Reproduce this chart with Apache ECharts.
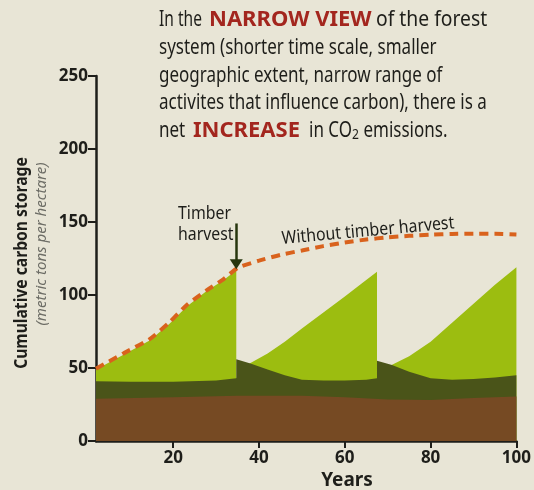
<!DOCTYPE html>
<html>
<head>
<meta charset="utf-8">
<script src="https://cdn.jsdelivr.net/npm/echarts@6/dist/echarts.min.js"></script>
<style>
  html, body { margin: 0; background: #e8e5d6; }
  #chart { width: 534px; height: 490px; }
</style>
</head>
<body>
<div id="chart"></div>
<script>
// years / carbon (metric tons per hectare)
var liveTrees = [
  [2, 49], [8.4, 59], [14.6, 69], [19.2, 80.5], [23.1, 92], [27.7, 102.5], [31.6, 110], [34.7, 117],
  [34.7, 43], [37.8, 53], [42, 60], [46, 68], [50, 77], [55, 88], [60, 99], [64, 108], [67.5, 116],
  [67.5, 43], [70.9, 52], [75, 58], [80, 68], [85, 81], [90, 94], [95, 107], [100, 119]
];
var deadWood = [
  [2, 41], [10, 40.5], [20, 40.5], [30, 41.5], [34.7, 43], [34.7, 56], [38, 53], [42, 49], [46, 45],
  [50, 42], [55, 41.5], [60, 41.5], [65, 42], [67.5, 43], [67.5, 55], [71, 52], [75, 47.5], [80, 43],
  [85, 42], [90, 42.5], [95, 43.5], [100, 45]
];
var soil = [
  [2, 29], [20, 30], [35, 31], [50, 31], [60, 30], [70, 28.5], [80, 28], [90, 29.5], [100, 30.5]
];
var noHarvest = [
  [2, 49.5], [8.4, 60], [14.6, 70], [19.2, 81.5], [23.1, 93], [27.7, 103], [31.6, 110.5], [35, 118.5],
  [40, 123.5], [45, 127.5], [50, 130.5], [55, 133.5], [60, 136], [65, 138], [70, 139.5],
  [75, 140.5], [80, 141.3], [85, 141.8], [90, 142], [95, 142], [100, 141.5]
];
var harvestArrow = [[34.7, 149], [34.7, 121]];
var xTicks = [20, 40, 60, 80, 100];

var font = "'Noto Sans', sans-serif";
var ink = '#1e1e1a';
var red = '#a3261e';

// the heading: plain parts are squeezed, the red words keep their width
function plain(x, y, text, sx) {
  return {
    type: 'text', x: x, y: y, scaleX: sx || 0.81,
    style: {
      text: text, fontFamily: font, fontSize: 21, fill: ink, verticalAlign: 'middle',
      rich: { s: { fontFamily: font, fontSize: 15, fill: ink, padding: [7, 0, 0, 0] } }
    }
  };
}
function strong(x, y, text) {
  return {
    type: 'text', x: x, y: y,
    style: { text: text, fontFamily: font, fontWeight: 'bold', fontSize: 22, fill: red, verticalAlign: 'middle' }
  };
}

var chart = echarts.init(document.getElementById('chart'));
chart.setOption({
  backgroundColor: '#e8e5d6',
  animation: false,
  grid: { left: 96, right: 15, top: 76, bottom: 49 },
  xAxis: {
    type: 'value',
    min: 2,
    max: 100,
    axisLine: { lineStyle: { color: ink, width: 2.5 } },
    axisTick: { customValues: xTicks, length: 7, lineStyle: { color: ink, width: 2 } },
    axisLabel: { customValues: xTicks, color: ink, fontFamily: font, fontWeight: 'bold', fontSize: 17, margin: 9 },
    splitLine: { show: false }
  },
  yAxis: {
    type: 'value',
    min: 0,
    max: 250,
    interval: 50,
    axisLine: { show: true, lineStyle: { color: ink, width: 2.5 } },
    axisTick: { show: true, length: 8, lineStyle: { color: ink, width: 2 } },
    axisLabel: { color: ink, fontFamily: font, fontWeight: 'bold', fontSize: 17, margin: 8 },
    splitLine: { show: false }
  },
  series: [
    {
      name: 'Live trees', type: 'line', data: liveTrees, showSymbol: false, silent: true,
      lineStyle: { width: 0 }, areaStyle: { color: '#9cbd10', opacity: 1 }
    },
    {
      name: 'Dead wood', type: 'line', data: deadWood, showSymbol: false, silent: true,
      lineStyle: { width: 0 }, areaStyle: { color: '#4a5419', opacity: 1 }
    },
    {
      name: 'Soil', type: 'line', data: soil, showSymbol: false, silent: true,
      lineStyle: { width: 0 }, areaStyle: { color: '#764a23', opacity: 1 }
    },
    {
      name: 'Without timber harvest', type: 'line', data: noHarvest, showSymbol: false, smooth: 0.2,
      lineStyle: { color: '#d9621d', width: 4, type: [9, 6] },
      markLine: {
        silent: true,
        symbol: ['none', 'triangle'],
        symbolSize: [13, 10],
        label: { show: false },
        lineStyle: { color: '#27360e', width: 2.5, type: 'solid' },
        data: [[{ coord: harvestArrow[0] }, { coord: harvestArrow[1] }]]
      }
    }
  ],
  graphic: [
    plain(159, 20, 'In the', 0.74),
    strong(209, 20, 'NARROW VIEW'),
    plain(376, 20, 'of the forest', 0.92),
    plain(159, 48, 'system (shorter time scale, smaller'),
    plain(159, 76, 'geographic extent, narrow range of'),
    plain(159, 103, 'activites that influence carbon), there is a'),
    plain(159, 131, 'net'),
    strong(193, 131, 'INCREASE'),
    plain(309, 131, 'in CO{s|2} emissions.'),
    {
      type: 'text', x: 178, y: 203, scaleX: 0.88,
      style: { text: 'Timber\nharvest', fontFamily: font, fontSize: 18, lineHeight: 21, fill: ink }
    },
    {
      type: 'text', x: 368, y: 231, rotation: 0.09, scaleX: 0.88,
      style: { text: 'Without timber harvest', fontFamily: font, fontSize: 18, fill: ink, align: 'center', verticalAlign: 'middle' }
    },
    {
      type: 'text', x: 22, y: 263, rotation: Math.PI / 2, scaleX: 0.87,
      style: { text: 'Cumulative carbon storage', fontFamily: font, fontWeight: 'bold', fontSize: 18, fill: ink, align: 'center', verticalAlign: 'middle' }
    },
    {
      type: 'text', x: 42, y: 244, rotation: Math.PI / 2,
      style: { text: '(metric tons per hectare)', fontFamily: font, fontStyle: 'italic', fontSize: 15, fill: '#6d6d66', align: 'center', verticalAlign: 'middle' }
    },
    {
      type: 'text', x: 347, y: 481,
      style: { text: 'Years', fontFamily: font, fontWeight: 'bold', fontSize: 19, fill: ink, align: 'center', verticalAlign: 'middle' }
    }
  ]
});
</script>
</body>
</html>
